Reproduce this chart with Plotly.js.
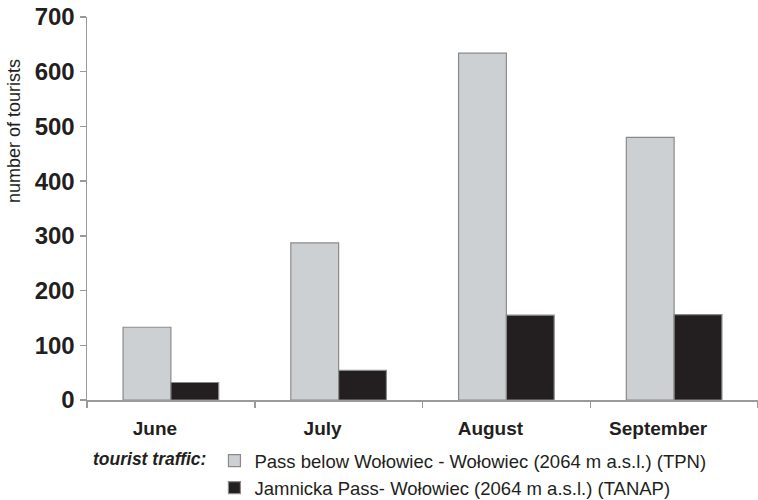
<!DOCTYPE html>
<html>
<head>
<meta charset="utf-8">
<script src="https://cdn.plot.ly/plotly-3.0.1.min.js"></script>
<style>html,body{margin:0;padding:0;background:#fff;}#chart{width:758px;height:500px;}</style>
</head>
<body>
<div id="chart"></div>
<script>
var months = ['June', 'July', 'August', 'September'];
var tpnValues = [133, 287, 634, 480];
var tanapValues = [32, 54, 155, 156];
var seriesNames = ['Pass below Wołowiec - Wołowiec (2064 m a.s.l.) (TPN)', 'Jamnicka Pass- Wołowiec (2064 m a.s.l.) (TANAP)'];
var yTicks = [0, 100, 200, 300, 400, 500, 600, 700];
var yTitle = 'number of tourists';

var font = 'Liberation Sans, Arial, sans-serif';
var ink = '#231f20';

var traces = [
  {type: 'bar', x: months, y: tpnValues, name: seriesNames[0], legendgroup: 'a',
   marker: {color: '#cdd0d3', line: {color: '#8a8a8a', width: 1.2}}, hoverinfo: 'y'},
  {type: 'bar', x: months, y: tanapValues, name: seriesNames[1], legendgroup: 'b',
   marker: {color: '#231f20', line: {color: '#8a8a8a', width: 1.2}}, hoverinfo: 'y'}
];

var layout = {
  width: 758, height: 500,
  margin: {l: 87, r: 0, t: 17, b: 100, autoexpand: false},
  paper_bgcolor: '#ffffff', plot_bgcolor: '#ffffff',
  barmode: 'group', bargap: 0.43, bargroupgap: 0,
  font: {family: font, color: ink},
  xaxis: {
    type: 'category', showgrid: false, zeroline: false, automargin: false,
    showline: true, linecolor: '#9a9a9a', linewidth: 1.5,
    ticks: 'outside', tickson: 'boundaries', ticklen: 6, tickcolor: '#9a9a9a', tickwidth: 1.5,
    tickangle: 0,
    tickfont: {family: font, size: 19, color: ink, weight: 'bold'},
    ticklabelshift: -16, ticklabelstandoff: 11
  },
  yaxis: {
    range: [0, 700], tickvals: yTicks, showgrid: false, zeroline: false, automargin: false,
    showline: true, linecolor: '#9a9a9a', linewidth: 1.5,
    ticks: 'outside', ticklen: 6, tickcolor: '#9a9a9a', tickwidth: 1.5,
    tickfont: {family: font, size: 24, color: ink, weight: 'bold'}
  },
  annotations: [{
    text: yTitle, textangle: -90, showarrow: false,
    xref: 'paper', yref: 'paper', x: -0.109, y: 0.702, xanchor: 'center', yanchor: 'middle',
    font: {family: font, size: 18, color: ink}
  }],
  showlegend: true,
  legend: {
    orientation: 'v', xref: 'container', yref: 'container',
    x: 91 / 758, xanchor: 'left', y: 58 / 500, yanchor: 'top',
    traceorder: 'grouped', tracegroupgap: 0,
    font: {family: font, size: 18.5, color: ink},
    title: {text: '<b><i>tourist traffic:</i></b>', side: 'left', font: {family: font, size: 17.5, color: ink}},
    bgcolor: 'rgba(0,0,0,0)'
  }
};

Plotly.newPlot('chart', traces, layout, {displayModeBar: false, staticPlot: true});
</script>
</body>
</html>
